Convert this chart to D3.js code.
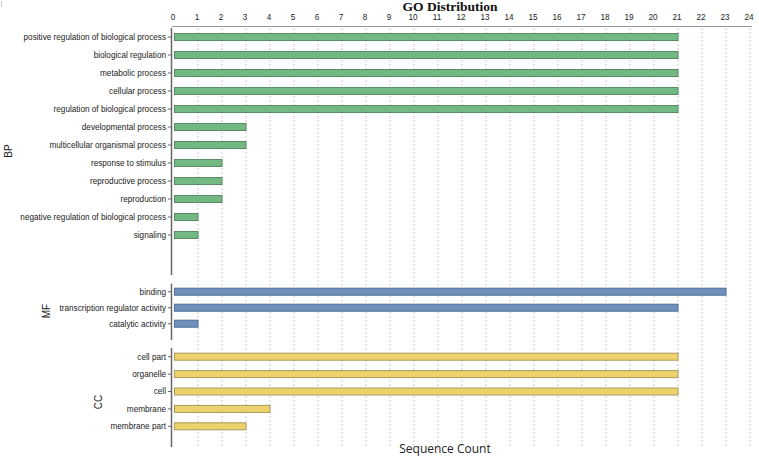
<!DOCTYPE html>
<html><head><meta charset="utf-8">
<script src="https://cdn.jsdelivr.net/npm/d3@7"></script>
<style>body{margin:0;background:#fff;}svg{display:block;}</style>
</head><body>
<script>
const bpCategories = ["positive regulation of biological process","biological regulation","metabolic process","cellular process","regulation of biological process","developmental process","multicellular organismal process","response to stimulus","reproductive process","reproduction","negative regulation of biological process","signaling"];
const bpValues = [21,21,21,21,21,3,3,2,2,2,1,1];
const mfCategories = ["binding","transcription regulator activity","catalytic activity"];
const mfValues = [23,21,1];
const ccCategories = ["cell part","organelle","cell","membrane","membrane part"];
const ccValues = [21,21,21,4,3];
const xTicks = d3.range(0,25);

const W=759,H=457;
const svg=d3.select("body").append("svg").attr("width",W).attr("height",H);
const x=d3.scaleLinear().domain([0,24]).range([174,750]);

// gridlines
svg.append("g").selectAll("line").data(xTicks.slice(1)).join("line")
  .attr("x1",d=>x(d)).attr("x2",d=>x(d)).attr("y1",28).attr("y2",447)
  .attr("stroke","#c8c8c8").attr("stroke-width",1).attr("stroke-dasharray","2,2");

// top axis
const ax=svg.append("g").attr("transform","translate(0,26)");
ax.append("line").attr("x1",172).attr("x2",752).attr("y1",0.5).attr("y2",0.5).attr("stroke","#999");
ax.selectAll("text").data(xTicks).join("text")
  .attr("x",d=>x(d)-1).attr("y",-6).attr("text-anchor","middle")
  .attr("font-family","Liberation Sans, Arial, sans-serif").attr("font-size",8.2).attr("fill","#222").text(d=>d);

// title
svg.append("text").attr("x",450).attr("y",11).attr("text-anchor","middle")
  .attr("font-family","Liberation Serif, Times New Roman, serif").attr("font-weight","bold").attr("font-size",13.5)
  .attr("fill","#111").text("GO Distribution");

const panels=[
  {name:"BP",cats:bpCategories,vals:bpValues,r0:28,step:18,lineEnd:275,fill:"#72b983",stroke:"#5b8a66",lx:8,ly:151},
  {name:"MF",cats:mfCategories,vals:mfValues,r0:283.7,step:16,lineEnd:340,fill:"#7090bd",stroke:"#4e6a94",lx:46,ly:311},
  {name:"CC",cats:ccCategories,vals:ccValues,r0:348,step:17.4,lineEnd:447,fill:"#eed36c",stroke:"#a99a5c",lx:98,ly:402}
];
panels.forEach(p=>{
  const y=d3.scaleBand().domain(p.cats).range([p.r0,p.r0+p.step*p.cats.length]);
  const g=svg.append("g");
  g.append("line").attr("x1",171.5).attr("x2",171.5).attr("y1",p.r0).attr("y2",p.lineEnd)
    .attr("stroke","#666").attr("stroke-width",1.5);
  const bh=7;
  g.selectAll("rect").data(p.cats).join("rect")
    .attr("x",x(0)+0.5).attr("y",d=>y(d)+y.bandwidth()/2-bh/2)
    .attr("width",(d,i)=>x(p.vals[i])-x(0)-0.5).attr("height",bh)
    .attr("fill",p.fill).attr("stroke",p.stroke).attr("stroke-width",1);
  g.selectAll("line.tk").data(p.cats).join("line").attr("class","tk")
    .attr("x1",168).attr("x2",171).attr("y1",d=>y(d)+y.bandwidth()/2).attr("y2",d=>y(d)+y.bandwidth()/2)
    .attr("stroke","#666");
  g.selectAll("text").data(p.cats).join("text")
    .attr("x",166).attr("y",d=>y(d)+y.bandwidth()/2).attr("dy","0.35em").attr("text-anchor","end")
    .attr("font-family","Liberation Sans, Arial, sans-serif").attr("font-size",8.2).attr("fill","#222").text(d=>d);
  g.append("text").attr("transform",`translate(${p.lx},${p.ly}) rotate(-90)`).attr("text-anchor","middle")
    .attr("dy","0.35em").attr("font-family","Liberation Sans, Arial, sans-serif").attr("font-size",10).attr("fill","#222").text(p.name);
});

svg.append("text").attr("x",445).attr("y",453).attr("text-anchor","middle")
  .attr("font-family","Open Sans, sans-serif").attr("font-size",12).attr("fill","#222").text("Sequence Count");
svg.append("line").attr("x1",1.5).attr("x2",1.5).attr("y1",1).attr("y2",7).attr("stroke","#ccc");
</script>
</body></html>
